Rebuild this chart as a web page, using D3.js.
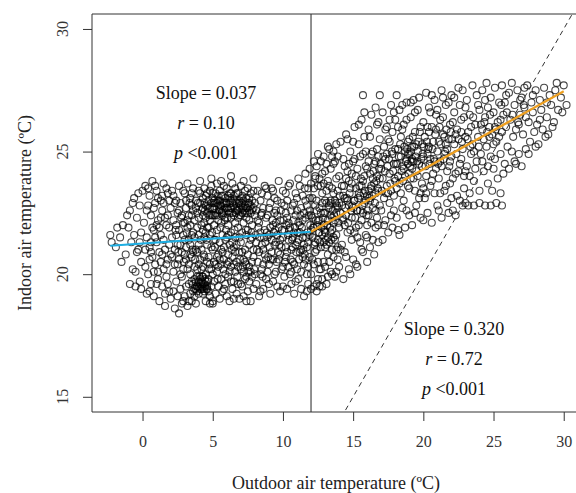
<!DOCTYPE html>
<html>
<head>
<meta charset="utf-8">
<script src="https://cdn.jsdelivr.net/npm/d3@7"></script>
<style>
  body { margin: 0; background: #fff; }
  text { font-family: "Liberation Serif", "Times New Roman", serif; }
</style>
</head>
<body>
<script>
//hourly readings, outdoor temp (x) vs indoor temp (y)
//cold side of the break point (outdoor < 12)
var coldPoints = [
  [-2.3,21.6],[-2.2,21.3],[-1.9,21.1],[-1.6,21.5],[-1.4,22.0],[-1.2,20.8],[-1.0,21.9],[-0.9,22.6],[-0.8,21.3],[-0.7,20.2],
  [-0.6,23.1],[-0.5,19.5],[-0.5,20.1],[-0.4,22.3],[-0.3,21.0],[-0.2,19.7],[-0.2,22.8],[-0.1,20.5],[-0.1,21.7],[0.0,23.4],
  [-1.1,22.4],[-0.9,19.6],[-0.6,21.6],[-0.3,23.3],[-0.1,19.4],[-1.5,20.5],[-0.7,22.9],[-0.4,20.9],[-1.8,21.9],[-0.2,21.3],
  [0.1,22.1],[0.2,20.3],[0.2,23.6],[0.3,19.2],[0.3,21.5],[0.4,22.8],[0.4,20.0],[0.5,23.2],[0.5,21.1],[0.6,19.6],
  [0.6,22.4],[0.7,20.7],[0.7,23.8],[0.8,21.8],[0.8,19.1],[0.9,22.9],[0.9,20.4],[1.0,21.3],[1.0,23.4],[1.1,19.8],
  [1.1,22.2],[1.2,20.9],[1.2,18.9],[1.3,23.0],[1.3,21.6],[1.4,19.5],[1.4,22.6],[1.5,20.2],[1.5,23.7],[1.6,21.0],
  [1.6,18.7],[1.7,22.0],[1.7,19.9],[1.8,23.3],[1.8,20.6],[1.9,21.9],[1.9,19.3],[2.0,22.7],[0.3,22.6],[0.5,20.6],
  [0.7,21.9],[0.9,23.6],[1.1,20.1],[1.3,22.3],[1.5,21.4],[1.7,20.4],[1.9,23.0],[0.2,21.0],[0.4,23.5],[0.6,20.9],
  [0.8,22.7],[1.0,19.6],[1.2,21.9],[1.4,23.2],[1.6,19.2],[1.8,22.4],[2.0,20.8],[0.5,19.3],[1.0,22.0],[1.5,22.9],
  [1.9,21.2],[1.3,20.5],[0.9,21.5],[1.7,23.5],[1.1,23.1],[0.6,21.3],[1.4,20.8],[1.8,19.6],[0.8,20.1],[1.6,22.3],
  [2.0,19.0],[2.1,21.5],[2.1,23.4],[2.2,20.1],[2.2,22.2],[2.3,18.6],[2.3,21.0],[2.4,23.0],[2.4,19.7],[2.5,22.5],
  [2.5,20.4],[2.6,18.4],[2.6,21.8],[2.6,23.6],[2.7,19.4],[2.7,22.9],[2.8,20.9],[2.8,18.8],[2.9,22.1],[2.9,20.2],
  [3.0,23.3],[3.0,19.1],[3.0,21.4],[3.1,22.7],[3.1,20.6],[3.2,18.7],[3.2,23.7],[3.2,21.9],[3.3,19.6],[3.3,22.4],
  [3.4,20.0],[3.4,21.2],[3.4,23.1],[3.5,18.9],[3.5,22.8],[3.5,20.7],[3.6,19.3],[3.6,21.7],[3.6,23.5],[3.7,22.2],
  [3.7,20.3],[3.7,19.8],[3.8,21.0],[3.8,23.0],[3.8,18.8],[3.9,22.5],[3.9,19.5],[3.9,20.9],[4.0,21.6],[4.0,23.4],
  [2.2,19.3],[2.4,21.6],[2.6,22.6],[2.8,19.9],[3.0,20.8],[3.2,22.2],[3.4,19.2],[3.6,20.9],[3.8,22.7],[4.0,19.7],
  [2.3,22.9],[2.5,19.1],[2.7,21.2],[2.9,23.4],[3.1,19.5],[3.3,21.4],[3.5,23.3],[3.7,21.5],[3.9,21.9],[2.1,20.7],
  [2.3,20.4],[2.5,21.2],[2.7,20.0],[2.9,21.6],[3.1,21.1],[3.3,20.4],[3.5,21.6],[3.7,19.1],[3.9,19.9],[2.4,22.0],
  [2.8,22.4],[3.2,20.2],[3.6,22.6],[4.0,20.4],[2.6,20.6],[3.0,22.1],[3.4,22.0],[3.8,19.4],[2.2,23.2],[3.3,18.9],
  [3.6,19.6],[3.8,19.7],[3.9,19.3],[3.7,19.4],[3.5,19.7],[3.9,20.2],[3.4,20.8],[2.9,18.9],[3.1,23.0],[3.5,22.4],
  [4.0,22.3],[4.1,22.9],[4.1,23.3],[4.2,22.0],[4.2,22.6],[4.3,23.1],[4.3,22.4],[4.4,23.5],[4.4,22.1],[4.5,22.8],
  [4.5,23.2],[4.6,22.5],[4.6,21.9],[4.7,23.0],[4.7,22.7],[4.8,23.4],[4.8,22.2],[4.9,22.9],[4.9,23.6],[5.0,22.4],
  [5.0,23.1],[5.1,22.7],[5.1,22.0],[5.2,23.3],[5.2,22.5],[5.3,22.9],[5.3,23.7],[5.4,22.2],[5.4,23.0],[5.5,22.6],
  [5.5,23.4],[5.6,22.1],[5.6,22.8],[5.7,23.2],[5.7,22.4],[5.8,23.6],[5.8,22.9],[5.9,22.3],[5.9,23.1],[6.0,22.7],
  [6.0,23.5],[6.1,22.0],[6.1,22.6],[6.2,23.3],[6.2,22.9],[6.3,22.3],[6.3,23.0],[6.4,23.7],[6.4,22.5],[6.5,22.8],
  [6.5,23.2],[6.6,22.1],[6.6,23.5],[6.7,22.6],[6.7,22.9],[6.8,23.3],[6.8,22.3],[6.9,23.0],[6.9,22.7],[7.0,23.6],
  [7.0,22.4],[7.1,22.9],[7.1,23.2],[7.2,22.1],[7.2,22.6],[7.3,23.4],[7.3,22.8],[7.4,22.3],[7.4,23.1],[7.5,22.7],
  [7.5,23.5],[7.6,22.2],[7.6,22.9],[7.7,23.3],[7.7,22.5],[7.8,23.0],[7.8,22.0],[7.9,22.7],[7.9,23.4],[8.0,22.4],
  [4.3,22.7],[4.6,23.3],[4.9,22.4],[5.2,22.9],[5.5,23.0],[5.8,22.5],[6.1,23.2],[6.4,22.9],[6.7,23.3],[7.0,22.8],
  [7.3,22.5],[7.6,23.1],[4.5,22.3],[5.0,22.7],[5.4,22.8],[5.9,22.7],[6.3,22.7],[6.8,22.6],[7.2,23.0],[7.7,22.8],
  [4.8,22.7],[5.3,22.4],[5.7,22.9],[6.2,22.5],[6.6,22.7],[7.1,22.5],[7.5,22.9],[4.4,22.9],[5.1,23.0],[5.6,23.2],
  [6.0,22.9],[6.5,22.4],[6.9,22.9],[7.4,22.7],[7.8,22.6],[5.0,23.3],[5.7,22.6],[6.3,23.3],[6.9,22.4],[7.6,22.6],
  [4.0,21.2],[4.1,20.6],[4.1,19.4],[4.2,19.7],[4.2,21.0],[4.3,19.2],[4.3,20.3],[4.4,19.6],[4.4,21.5],[4.5,18.9],
  [4.5,20.0],[4.6,19.4],[4.6,21.2],[4.7,20.7],[4.7,19.8],[4.8,19.1],[4.8,21.6],[4.9,20.2],[4.9,19.5],[5.0,21.0],
  [5.0,18.8],[5.1,20.5],[5.1,19.7],[5.2,21.4],[5.2,19.2],[5.3,20.1],[5.3,21.8],[5.4,19.5],[5.4,20.8],[5.5,19.0],
  [5.5,21.3],[5.6,20.4],[5.6,19.8],[5.7,21.6],[5.7,19.3],[5.8,20.6],[5.8,21.1],[5.9,19.6],[5.9,20.0],[6.0,21.5],
  [6.0,19.1],[6.1,20.8],[6.1,19.9],[6.2,21.2],[6.2,18.9],[6.3,20.3],[6.3,21.7],[6.4,19.4],[6.4,20.7],[6.5,21.1],
  [6.5,19.7],[6.6,20.1],[6.6,21.5],[6.7,19.2],[6.7,20.5],[6.8,21.9],[6.8,19.6],[6.9,20.9],[6.9,19.0],[7.0,21.3],
  [7.0,20.2],[7.1,19.5],[7.1,21.7],[7.2,20.6],[7.2,19.1],[7.3,21.0],[7.3,19.8],[7.4,20.4],[7.4,21.6],[7.5,19.3],
  [7.5,20.8],[7.6,21.2],[7.6,19.7],[7.7,20.1],[7.7,18.9],[7.8,21.5],[7.8,20.5],[7.9,19.4],[7.9,21.0],[8.0,20.0],
  [4.2,20.2],[4.5,21.7],[4.8,20.4],[5.1,21.4],[5.4,20.3],[5.7,20.9],[6.0,20.4],[6.3,19.7],[6.6,20.9],[6.9,21.5],
  [7.2,20.1],[7.5,21.8],[7.8,19.9],[4.4,20.7],[4.7,21.9],[5.0,20.0],[5.3,20.7],[5.6,21.0],[5.9,21.4],[6.2,20.1],
  [6.5,20.4],[6.8,20.3],[7.1,20.9],[7.4,19.9],[7.7,21.4],[4.3,21.8],[4.9,21.1],[5.5,20.6],[6.1,21.6],[6.7,21.2],
  [7.3,20.5],[7.9,20.7],[4.6,20.5],[5.2,20.4],[5.8,19.4],[6.4,21.3],[7.0,19.6],[7.6,20.3],
  [4.0,19.5],[4.1,19.8],[4.2,19.4],[4.3,19.6],[4.4,19.3],[4.5,19.7],[4.6,19.5],[4.7,19.3],[4.0,19.2],[4.3,19.9],
  [4.1,23.8],[4.9,23.9],[5.6,23.8],[6.3,24.0],[7.2,23.8],[7.9,23.9],[5.0,18.9],[6.5,19.0],[7.4,18.9],[4.8,18.8],
  [8.0,22.9],[8.1,21.3],[8.1,19.6],[8.2,23.4],[8.2,20.5],[8.3,22.1],[8.3,19.1],[8.4,21.7],[8.4,23.0],[8.5,20.2],
  [8.5,22.5],[8.6,19.4],[8.6,21.0],[8.7,23.6],[8.7,20.8],[8.8,22.3],[8.8,19.8],[8.9,21.5],[8.9,23.2],[9.0,20.4],
  [9.0,22.7],[9.1,19.2],[9.1,21.9],[9.2,23.5],[9.2,20.9],[9.3,22.0],[9.3,19.7],[9.4,21.2],[9.4,23.1],[9.5,20.1],
  [9.5,22.6],[9.6,19.5],[9.6,21.6],[9.7,23.8],[9.7,20.6],[9.8,22.2],[9.8,19.3],[9.9,21.1],[9.9,22.9],[10.0,20.3],
  [10.0,23.4],[10.1,19.9],[10.1,21.8],[10.2,22.5],[10.2,20.7],[10.3,19.4],[10.3,23.0],[10.4,21.4],[10.4,22.1],[10.5,20.0],
  [10.5,23.7],[10.6,19.6],[10.6,21.0],[10.7,22.8],[10.7,20.5],[10.8,19.2],[10.8,21.7],[10.9,23.3],[10.9,22.4],[11.0,20.2],
  [11.0,21.3],[11.1,19.8],[11.1,23.9],[11.2,22.0],[11.2,20.9],[11.3,19.4],[11.3,22.7],[11.4,21.5],[11.4,23.2],[11.5,20.4],
  [11.5,19.1],[11.6,22.3],[11.6,24.1],[11.7,21.1],[11.7,20.0],[11.8,23.5],[11.8,19.6],[11.9,22.6],[11.9,20.7],[12.0,21.8],
  [8.2,22.2],[8.5,21.2],[8.8,20.6],[9.1,22.9],[9.4,20.0],[9.7,21.9],[10.0,21.5],[10.3,20.9],[10.6,22.6],[10.9,21.2],
  [11.2,21.7],[11.5,22.5],[11.8,21.3],[8.3,20.9],[8.6,22.7],[8.9,20.1],[9.2,21.4],[9.5,21.3],[9.8,20.8],[10.1,22.8],
  [10.4,20.3],[10.7,21.5],[11.0,22.6],[11.3,21.0],[11.6,20.6],[11.9,21.6],[8.4,20.0],[8.7,21.8],[9.0,21.6],[9.3,23.4],
  [9.6,22.4],[9.9,20.2],[10.2,21.1],[10.5,21.9],[10.8,22.9],[11.1,21.4],[11.4,20.7],[11.7,22.8],[8.1,22.6],[8.6,20.4],
  [9.0,19.6],[9.4,22.5],[9.8,21.4],[10.2,23.3],[10.6,20.1],[11.0,23.1],[11.4,22.2],[11.8,20.3],[8.8,23.5],[9.6,23.0],
  [10.4,23.6],[11.2,23.6],[11.9,24.3],[11.6,23.0],[10.0,19.5],[10.9,19.7],[11.7,19.3],[8.4,19.3],[9.3,20.6],[10.7,21.1],
  [11.1,22.1],[11.5,21.2],[11.9,23.1],[10.3,22.3],[9.5,22.1],[8.9,22.4],[8.5,23.3],[11.3,20.1],[10.8,20.4],[12.0,19.4],
  //the dense core
  [2.35,21.8],[2.55,20.9],[2.75,22.3],[2.95,20.5],[3.15,21.7],[3.35,22.9],[3.55,21.0],[3.75,20.6],[3.95,22.9],[4.15,21.4],
  [4.35,20.8],[4.55,21.4],[4.75,20.2],[4.95,21.7],[5.15,21.1],[5.35,19.8],[5.55,21.9],[5.75,20.2],[5.95,21.8],[6.15,20.5],
  [6.35,21.0],[6.55,21.8],[6.75,19.9],[6.95,20.6],[7.15,20.3],[7.35,21.8],[7.55,20.1],[7.75,21.7],[7.95,20.2],[8.15,21.0],
  [8.35,21.5],[8.55,19.9],[8.75,21.3],[8.95,20.7],[9.15,20.6],[9.35,21.7],[9.55,20.5],[9.75,21.2],[9.95,21.8],[10.15,20.5],
  [10.35,21.6],[10.55,20.6],[10.75,22.2],[10.95,20.9],[11.15,20.6],[11.35,21.9],[11.55,20.8],[11.75,21.7],[11.95,22.0],[11.45,21.0],
  [4.45,22.6],[4.75,22.4],[5.05,22.9],[5.35,23.2],[5.65,22.5],[5.95,22.9],[6.25,22.7],[6.55,23.0],[6.85,22.9],[7.15,22.7],
  [7.45,22.5],[5.15,22.4],[5.55,22.8],[5.85,22.2],[6.25,23.1],[6.65,22.5],[7.05,23.1],[4.65,22.8],[5.45,22.6],[6.05,22.3],
  [4.15,19.6],[4.25,19.5],[4.35,19.4],[4.45,19.8],[4.55,19.4],[4.05,19.9],[3.85,19.5],[4.65,19.7],[4.25,19.9],[4.45,19.5],
  [8.05,21.6],[8.45,22.4],[8.85,21.7],[9.25,22.2],[9.65,20.9],[10.05,22.2],[10.45,21.8],[10.85,21.9],[11.25,22.4],[11.65,21.5],
  [8.25,21.9],[8.65,21.5],[9.05,21.1],[9.45,21.8],[9.85,22.6],[10.25,22.0],[10.65,21.4],[11.05,21.7],[11.85,22.4],[11.55,23.5]
];

//warm side of the break point (outdoor >= 12)
var warmPoints = [
  [12.0,22.4],[12.1,20.6],[12.1,23.1],[12.2,19.5],[12.2,21.9],[12.3,24.0],[12.3,20.9],[12.4,22.6],[12.4,19.3],[12.5,21.4],
  [12.5,23.6],[12.6,20.2],[12.6,22.2],[12.7,24.6],[12.7,21.1],[12.8,19.8],[12.8,23.3],[12.9,22.0],[12.9,20.5],[13.0,24.2],
  [13.0,21.7],[13.1,19.6],[13.1,22.9],[13.2,20.8],[13.2,23.8],[13.3,21.3],[13.3,25.1],[13.4,22.4],[13.4,20.1],[13.5,23.5],
  [13.5,21.0],[13.6,24.5],[13.6,22.1],[13.7,19.9],[13.7,23.0],[13.8,21.6],[13.8,25.3],[13.9,20.6],[13.9,22.7],[14.0,24.0],
  [12.1,21.5],[12.3,22.8],[12.5,20.5],[12.7,22.5],[12.9,23.7],[13.1,21.2],[13.3,22.8],[13.5,22.3],[13.7,21.4],[13.9,23.4],
  [12.2,23.5],[12.4,21.0],[12.6,23.9],[12.8,21.6],[13.0,20.3],[13.2,22.2],[13.4,24.3],[13.6,20.7],[13.8,22.5],[12.0,20.0],
  [12.2,20.4],[12.4,24.4],[12.6,21.7],[12.8,22.9],[13.0,22.5],[13.2,21.5],[13.4,21.7],[13.6,23.3],[13.8,23.9],[14.0,21.9],
  [12.3,21.3],[12.5,22.2],[12.7,20.2],[12.9,21.3],[13.1,23.4],[13.3,20.5],[13.5,24.8],[13.7,22.2],[13.9,21.1],[12.1,22.3],
  [12.4,23.0],[12.6,19.5],[12.8,24.1],[13.0,23.0],[13.2,19.9],[13.4,23.0],[13.6,21.5],[13.8,20.1],[12.2,24.6],[12.5,19.8],
  [12.9,24.8],[13.3,23.6],[13.7,24.6],[12.7,23.6],[13.1,24.5],[13.5,20.0],[13.9,24.8],[12.4,19.6],[12.8,19.5],[13.2,25.2],
  [12.6,22.7],[13.0,21.1],[13.4,22.9],[13.8,21.0],[12.3,23.9],[12.9,22.5],[13.5,21.8],[12.0,23.7],[12.5,24.9],[13.6,25.0],
  [14.0,20.3],[14.1,22.5],[14.1,25.4],[14.2,21.2],[14.2,23.6],[14.3,19.8],[14.3,24.7],[14.4,22.0],[14.4,23.1],[14.5,20.7],
  [14.5,25.7],[14.6,21.7],[14.6,24.2],[14.7,22.8],[14.7,20.2],[14.8,23.5],[14.8,25.0],[14.9,21.4],[14.9,22.3],[15.0,24.6],
  [15.0,20.6],[15.1,23.0],[15.1,26.0],[15.2,21.9],[15.2,24.0],[15.3,22.6],[15.3,20.3],[15.4,25.3],[15.4,23.3],[15.5,21.3],
  [15.5,24.8],[15.6,22.2],[15.6,26.3],[15.7,20.9],[15.7,23.8],[15.8,25.6],[15.8,22.9],[15.9,21.6],[15.9,24.4],[16.0,23.2],
  [16.0,20.5],[16.1,25.9],[16.1,22.4],[16.2,24.1],[16.2,21.1],[16.3,23.6],[16.3,26.5],[16.4,22.7],[16.4,25.0],[16.5,20.8],
  [16.5,24.5],[16.6,21.9],[16.6,23.3],[16.7,26.1],[16.7,22.3],[16.8,24.8],[16.8,21.3],[16.9,23.9],[16.9,25.5],[17.0,22.6],
  [14.2,22.8],[14.4,24.4],[14.6,23.0],[14.8,21.8],[15.0,22.7],[15.2,23.5],[15.4,22.0],[15.6,23.6],[15.8,24.0],[16.0,22.0],
  [16.2,23.0],[16.4,23.9],[16.6,24.6],[16.8,23.4],[14.1,21.0],[14.3,23.2],[14.5,22.4],[14.7,24.5],[14.9,23.7],[15.1,21.7],
  [15.3,24.3],[15.5,23.2],[15.7,22.5],[15.9,23.0],[16.1,24.6],[16.3,22.1],[16.5,23.7],[16.7,24.0],[16.9,22.8],[14.4,20.9],
  [14.8,20.0],[15.2,20.4],[15.6,21.0],[16.0,21.5],[16.4,21.4],[16.8,22.0],[14.6,25.5],[15.0,25.4],[15.4,26.1],[15.8,26.6],
  [16.2,25.6],[16.6,26.8],[15.7,27.3],[16.9,27.3],[14.0,22.9],[14.9,24.1],[15.5,22.6],[16.1,23.4],[16.7,25.1],[15.3,21.5],
  [14.3,22.2],[14.7,23.8],[15.1,24.7],[15.9,25.0],[16.3,24.9],[16.6,22.6],[16.0,24.3],[14.5,23.9],[15.7,24.9],[16.8,26.2],
  [17.0,24.3],[17.1,21.4],[17.1,26.6],[17.2,23.1],[17.2,25.2],[17.3,22.2],[17.3,24.7],[17.4,26.0],[17.4,23.6],[17.5,21.7],
  [17.5,25.5],[17.6,22.9],[17.6,24.1],[17.7,26.9],[17.7,23.4],[17.8,25.8],[17.8,21.9],[17.9,24.5],[17.9,22.6],[18.0,26.3],
  [18.0,23.8],[18.1,27.3],[18.1,22.3],[18.2,25.1],[18.2,24.0],[18.3,21.6],[18.3,26.7],[18.4,23.3],[18.4,25.6],[18.5,22.7],
  [18.5,24.4],[18.6,26.1],[18.6,23.0],[18.7,25.0],[18.7,21.9],[18.8,24.7],[18.8,27.0],[18.9,23.6],[18.9,25.4],[19.0,22.4],
  [19.0,24.9],[19.1,26.4],[19.1,23.9],[19.2,25.2],[19.2,22.0],[19.3,24.6],[19.3,27.1],[19.4,23.4],[19.4,25.8],[19.5,22.8],
  [19.5,24.2],[19.6,26.7],[19.6,25.0],[19.7,23.1],[19.7,24.5],[19.8,26.0],[19.8,22.3],[19.9,25.3],[19.9,23.7],[20.0,24.8],
  [17.2,22.0],[17.5,23.3],[17.8,24.9],[18.1,23.5],[18.4,24.8],[18.7,24.0],[19.0,25.5],[19.3,23.9],[19.6,24.0],[19.9,24.4],
  [17.3,25.9],[17.6,26.3],[17.9,26.6],[18.2,26.0],[18.5,26.9],[18.8,26.3],[19.1,27.0],[19.4,26.6],[19.7,27.2],[17.1,23.9],
  [17.4,24.9],[17.7,22.4],[18.0,25.1],[18.3,23.7],[18.6,24.3],[18.9,24.9],[19.2,24.7],[19.5,25.3],[19.8,23.3],[17.9,23.2],
  [18.2,21.8],[18.8,22.6],[19.4,22.5],[20.0,22.2],[18.5,25.9],[19.0,23.5],[19.2,24.3],[18.9,24.5],[19.1,25.0],[17.6,25.4],
  [20.0,26.2],[20.1,23.1],[20.1,25.6],[20.2,27.4],[20.2,24.0],[20.3,22.5],[20.4,25.2],[20.4,26.8],[20.5,23.6],[20.5,24.7],
  [20.6,22.1],[20.6,26.0],[20.7,25.4],[20.8,23.3],[20.8,27.1],[20.9,24.3],[20.9,26.5],[21.0,22.8],[21.0,25.0],[21.1,23.9],
  [21.2,26.3],[21.2,24.6],[21.3,22.3],[21.3,27.5],[21.4,25.7],[21.5,23.4],[21.5,24.9],[21.6,26.9],[21.7,24.2],[21.7,22.9],
  [21.8,25.5],[21.9,26.1],[21.9,23.7],[22.0,24.8],[22.0,27.3],[22.1,22.6],[22.2,25.3],[22.2,26.6],[22.3,24.1],[22.4,23.2],
  [22.4,25.9],[22.5,27.6],[22.6,24.5],[22.6,23.0],[22.7,26.3],[22.8,25.1],[22.8,22.8],[22.9,24.0],[23.0,26.8],[23.0,25.6],
  [20.3,24.9],[20.7,24.1],[21.1,25.4],[21.5,25.6],[21.9,24.6],[22.3,25.7],[22.7,24.7],[20.5,26.6],[21.0,26.7],[21.4,26.4],
  [21.8,27.0],[22.2,27.2],[22.6,26.9],[20.2,23.3],[20.6,23.8],[21.1,22.6],[21.6,23.6],[22.1,23.9],[22.5,24.2],[22.9,23.5],
  [20.4,25.8],[20.9,25.9],[21.3,24.4],[21.7,25.1],[22.1,26.2],[22.5,25.5],[22.9,26.4],[20.8,24.6],[21.2,23.3],[22.0,23.1],
  [20.0,23.5],[21.4,27.2],[22.8,27.5],[20.6,27.3],[21.8,22.5],[22.3,22.4],[23.0,22.9],[20.3,26.0],[21.6,25.3],[22.7,25.8],
  [23.1,24.4],[23.1,27.1],[23.2,25.8],[23.3,23.3],[23.3,26.5],[23.4,24.9],[23.5,27.7],[23.5,25.3],[23.6,23.8],[23.7,26.1],
  [23.8,24.6],[23.8,27.3],[23.9,25.6],[24.0,23.4],[24.0,26.7],[24.1,24.9],[24.2,27.5],[24.2,25.9],[24.3,24.2],[24.4,26.4],
  [24.5,25.2],[24.5,27.8],[24.6,23.7],[24.7,26.0],[24.8,27.2],[24.8,24.8],[24.9,25.7],[25.0,26.6],[25.0,24.3],[25.1,27.6],
  [25.2,25.4],[25.3,26.2],[25.3,23.9],[25.4,27.0],[25.5,24.9],[25.6,25.8],[25.6,27.7],[25.7,26.5],[25.8,24.5],[25.9,27.3],
  [23.2,22.8],[23.6,22.8],[24.0,22.9],[24.4,22.8],[24.8,22.8],[25.2,22.9],[25.6,22.8],[23.4,26.0],[23.9,26.9],[24.3,25.5],
  [24.7,25.6],[25.1,26.0],[25.5,26.3],[25.9,26.0],[23.6,25.0],[24.1,26.1],[24.6,26.8],[25.0,25.3],[25.4,25.6],[25.8,27.0],
  [23.3,24.0],[23.7,24.3],[24.2,24.6],[24.6,24.4],[25.1,24.7],[25.5,23.3],[23.0,24.2],[24.9,23.4],[25.7,24.1],[24.4,27.1],
  [26.0,25.2],[26.1,27.4],[26.1,24.3],[26.2,26.3],[26.3,27.8],[26.4,25.6],[26.5,24.6],[26.5,26.9],[26.6,25.9],[26.7,27.5],
  [26.8,24.9],[26.9,26.5],[27.0,24.4],[27.0,27.2],[27.1,25.7],[27.2,26.8],[27.3,25.1],[27.4,27.7],[27.5,26.2],[27.6,25.4],
  [27.7,27.0],[27.8,26.6],[27.9,25.8],[28.0,27.5],[28.1,26.1],[28.2,25.3],[28.3,27.1],[28.4,26.7],[28.5,25.9],[28.6,27.6],
  [28.7,25.6],[28.8,26.4],[28.9,25.7],[29.0,27.3],[29.1,26.9],[29.3,26.2],[29.4,27.5],[29.6,26.7],[29.8,27.2],[30.0,27.7],
  [30.2,26.9],[29.9,26.6],[29.5,27.8],[26.3,25.0],[26.8,26.1],[27.3,26.4],[27.8,27.3],[28.3,26.3],[28.8,27.0],[26.6,24.5],
  [27.5,24.9],[29.2,26.0],[28.0,25.2],[27.2,27.6],[26.9,27.1],
  //the dense band round the warm fit
  [12.15,21.9],[12.35,22.2],[12.55,21.7],[12.75,21.9],[12.95,21.8],[13.15,22.0],[13.35,21.9],[13.55,22.6],[13.75,22.9],[13.95,22.1],
  [12.25,21.2],[12.45,22.0],[12.65,21.3],[12.85,22.3],[13.05,21.4],[13.25,22.7],[13.45,21.4],[13.65,22.4],[13.85,22.8],[14.05,23.2],
  [14.25,22.3],[14.45,22.7],[14.65,22.1],[14.85,22.6],[15.05,23.0],[15.25,22.6],[15.45,23.6],[15.65,22.8],[15.85,23.4],[16.05,22.6],
  [14.35,23.6],[14.55,23.1],[14.75,23.3],[14.95,22.8],[15.15,22.3],[15.35,23.1],[15.55,23.9],[15.75,23.3],[15.95,22.4],[16.15,23.1],
  [16.25,23.5],[16.45,24.2],[16.65,23.8],[16.85,24.3],[17.05,23.4],[17.25,24.2],[17.45,24.4],[17.65,23.7],[17.85,24.2],[18.05,24.5],
  [16.35,23.2],[16.55,22.9],[16.75,23.5],[16.95,24.5],[17.15,24.8],[17.35,23.3],[17.55,24.7],[17.75,25.0],[17.95,23.9],[18.15,24.5],
  [18.25,24.8],[18.45,24.2],[18.65,25.2],[18.85,25.1],[19.05,24.4],[19.25,25.6],[19.45,24.8],[19.65,25.4],[19.85,24.7],[20.05,25.2],
  [18.35,25.3],[18.55,23.8],[18.75,24.6],[18.95,24.1],[19.15,24.6],[19.35,25.2],[19.55,24.6],[19.75,25.8],[19.95,24.9],[20.15,24.4],
  [20.25,25.4],[20.45,24.5],[20.65,25.1],[20.85,25.7],[21.05,24.5],[21.25,25.3],[21.45,24.7],[21.65,25.9],[21.85,24.4],[22.05,25.5],
  [20.35,25.1],[20.75,24.7],[21.15,26.0],[21.55,25.0],[21.95,25.8],[22.35,24.9],[22.75,25.4],[23.15,25.5],[23.55,26.4],[23.95,25.2],
  [24.35,26.2],[24.75,26.5],[25.15,25.9],[25.55,26.9],[25.95,26.6],[26.35,26.5],[26.75,26.2],[27.15,26.9],[23.35,25.2],[24.55,25.8]
];

//fitted segments either side of the break (end points)
var breakPoint = 12;
var coldFit = [[-2.3, 21.16], [12, 21.73]];
var warmFit = [[12, 21.73], [30, 27.46]];
var identityLine = [[10, 10], [35, 35]];

var xTicks = [0, 5, 10, 15, 20, 25, 30];
var yTicks = [15, 20, 25, 30];

var coldStats = ["Slope = 0.037", "0.10", "<0.001"];
var warmStats = ["Slope = 0.320", "0.72", "<0.001"];

//svg set up
var width = 576;
var height = 493;
var plot = { left: 92, right: 589, top: 14, bottom: 412 };

var svg = d3.select('body')
  .append('svg')
  .attr('width', width)
  .attr('height', height)
  .style('background', '#fff');

//scales, R style with 4% padding round the data
var x = d3.scaleLinear()
  .domain([-3.6, 31.8])
  .range([plot.left, plot.right]);

var y = d3.scaleLinear()
  .domain([14.38, 30.61])
  .range([plot.bottom, plot.top]);

svg.append("clipPath")
  .attr("id", "plotArea")
  .append("rect")
  .attr("x", plot.left)
  .attr("y", plot.top)
  .attr("width", plot.right - plot.left)
  .attr("height", plot.bottom - plot.top);

var inner = svg.append("g").attr("clip-path", "url(#plotArea)");

//the open circles
var allPoints = coldPoints.concat(warmPoints);
inner.append("g")
  .selectAll("circle")
  .data(allPoints)
  .enter()
  .append("circle")
  .attr("cx", function(d) { return x(d[0]); })
  .attr("cy", function(d) { return y(d[1]); })
  .attr("r", 3.5)
  .attr("fill", "none")
  .attr("stroke", "#000")
  .attr("stroke-opacity", 0.72)
  .attr("stroke-width", 1.1);

//break point line
inner.append("line")
  .attr("x1", x(breakPoint))
  .attr("x2", x(breakPoint))
  .attr("y1", plot.top)
  .attr("y2", plot.bottom)
  .attr("stroke", "#222")
  .attr("stroke-width", 1);

var line = d3.line()
  .x(function(d) { return x(d[0]); })
  .y(function(d) { return y(d[1]); });

//1:1 line
inner.append("path")
  .datum(identityLine)
  .attr("fill", "none")
  .attr("stroke", "#333")
  .attr("stroke-width", 1)
  .attr("stroke-dasharray", "5,4")
  .attr("d", line);

inner.append("path")
  .datum(coldFit)
  .attr("fill", "none")
  .attr("stroke", "#1eaee2")
  .attr("stroke-width", 2.2)
  .attr("d", line);

inner.append("path")
  .datum(warmFit)
  .attr("fill", "none")
  .attr("stroke", "#eea021")
  .attr("stroke-width", 2.2)
  .attr("d", line);

//box (right edge is off the page)
svg.append("path")
  .attr("d", "M" + plot.right + "," + plot.top + "H" + plot.left + "V" + plot.bottom + "H" + plot.right)
  .attr("fill", "none")
  .attr("stroke", "#333")
  .attr("stroke-width", 1);

//axes
var xAxis = svg.append("g")
  .attr("transform", "translate(0," + plot.bottom + ")")
  .call(d3.axisBottom(x).tickValues(xTicks).tickSize(9).tickPadding(15));
xAxis.select(".domain").remove();
xAxis.selectAll("line").attr("stroke", "#333");
xAxis.selectAll("text")
  .attr("fill", "#333")
  .style("font-family", "Liberation Serif, serif")
  .style("font-size", "16px");

var yAxis = svg.append("g")
  .attr("transform", "translate(" + plot.left + ",0)")
  .call(d3.axisLeft(y).tickValues(yTicks).tickSize(9).tickFormat(function() { return ""; }));
yAxis.select(".domain").remove();
yAxis.selectAll("line").attr("stroke", "#333");

//rotated tick labels like R's las=0
svg.append("g")
  .selectAll("text")
  .data(yTicks)
  .enter()
  .append("text")
  .attr("transform", function(d) { return "translate(68," + y(d) + ") rotate(-90)"; })
  .attr("text-anchor", "middle")
  .attr("fill", "#333")
  .style("font-size", "16px")
  .text(function(d) { return d; });

//axis titles
svg.append("text")
  .attr("x", 336)
  .attr("y", 489)
  .attr("text-anchor", "middle")
  .attr("fill", "#222")
  .style("font-size", "18px")
  .text("Outdoor air temperature (ºC)");

svg.append("text")
  .attr("transform", "translate(31," + ((plot.top + plot.bottom) / 2) + ") rotate(-90)")
  .attr("text-anchor", "middle")
  .attr("fill", "#222")
  .style("font-size", "18px")
  .text("Indoor air temperature (ºC)");

//stats text blocks
function statBlock(cx, y0, stats) {
  var g = svg.append("g").attr("fill", "#111").style("font-size", "18px");
  g.append("text")
    .attr("x", cx).attr("y", y0)
    .attr("text-anchor", "middle")
    .text(stats[0]);
  var r = g.append("text")
    .attr("x", cx).attr("y", y0 + 30)
    .attr("text-anchor", "middle");
  r.append("tspan").style("font-style", "italic").text("r");
  r.append("tspan").text(" = " + stats[1]);
  var p = g.append("text")
    .attr("x", cx).attr("y", y0 + 60)
    .attr("text-anchor", "middle");
  p.append("tspan").style("font-style", "italic").text("p");
  p.append("tspan").text(" " + stats[2]);
}

statBlock(206, 99, coldStats);
statBlock(454, 335, warmStats);
</script>
</body>
</html>
